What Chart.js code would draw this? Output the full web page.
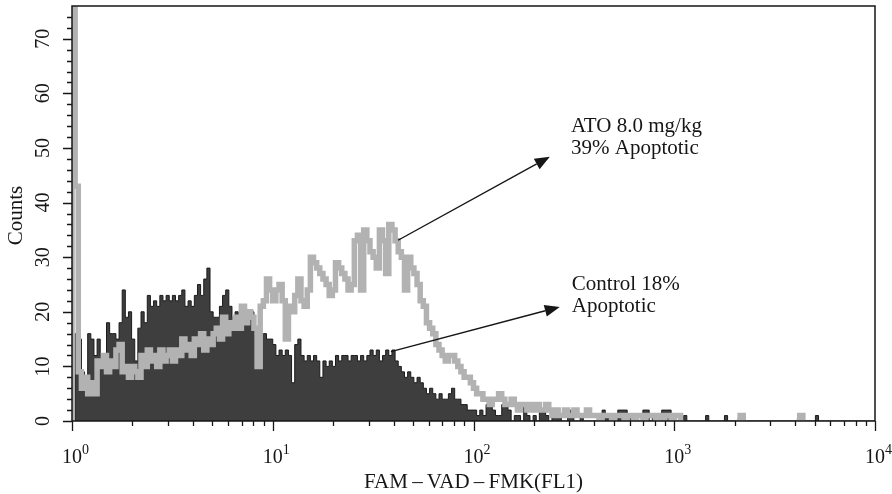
<!DOCTYPE html>
<html>
<head>
<meta charset="utf-8">
<title>FAM-VAD-FMK histogram</title>
<script src="https://cdn.jsdelivr.net/npm/chart.js@4.4.1/dist/chart.umd.min.js"></script>
<style>
  html, body { margin: 0; padding: 0; background: #ffffff; }
  #wrap { width: 892px; height: 494px; }
</style>
</head>
<body>
<div id="wrap"><canvas id="hist" width="892" height="494"></canvas></div>
<script>
// Histogram channels: 256 channels spread over 4 log decades (10^0 .. 10^4)
const CHANNELS = 256;
const DECADES = 4;

// Control sample, counts per channel
const controlCounts = [
  0,16,15,9,8,16,15,12,15,12,11,18,16,16,15,18,
  24,19,20,15,11,17,20,18,23,21,22,21,23,22,23,22,
  23,22,23,24,21,22,21,23,25,23,26,28,20,19,19,21,
  23,24,21,19,20,18,21,20,19,20,17,16,16,16,15,15,
  14,12,13,12,13,12,7,14,15,12,11,12,11,12,11,8,
  11,10,11,10,12,11,12,12,11,12,12,11,12,11,12,13,
  12,13,11,12,13,12,13,11,10,9,8,9,8,7,8,7,
  6,5,6,5,4,5,4,4,5,6,4,4,3,3,2,2,
  2,1,2,1,3,4,2,1,1,3,3,2,0,1,1,0,
  3,1,0,1,0,2,2,1,0,1,2,1,0,0,2,1,
  0,0,1,0,0,0,0,0,1,2,1,0,0,0,2,2,
  2,1,0,0,0,0,2,2,0,1,0,0,2,2,2,1,
  0,0,0,1,0,0,0,0,0,0,1,0,0,0,0,0,
  1,0,0,0,0,0,0,0,0,0,0,0,0,0,0,0,
  0,0,0,0,0,0,0,0,1,0,0,0,0,1,0,0,
  0,0,0,0,0,0,0,0,0,0,0,0,0,0,0,0
];

// ATO 8.0 mg/kg sample, counts per channel (first channel is off scale)
const atoCounts = [
  80,43,9,6,8,5,7,5,11,10,12,9,11,10,13,14,
  9,10,8,10,9,8,12,10,13,11,12,10,13,11,12,13,
  11,13,12,15,13,14,12,15,14,16,13,15,14,16,17,15,
  19,16,18,17,19,17,21,18,20,19,17,10,21,22,26,24,
  22,24,25,22,15,21,20,23,26,22,21,24,30,29,28,27,
  26,25,23,24,29,28,27,26,24,25,33,34,24,35,33,31,
  30,28,35,33,27,36,35,33,31,30,24,30,28,27,25,22,
  21,18,17,16,14,13,12,11,12,12,11,10,9,8,8,7,
  6,5,5,4,4,3,4,4,5,4,3,3,4,3,2,3,
  3,2,3,2,3,2,2,3,2,1,2,1,1,2,1,1,
  2,1,1,1,2,1,1,1,0,1,1,1,0,1,1,1,
  0,1,1,0,1,1,0,1,1,1,0,1,0,1,1,0,
  1,1,0,0,0,0,0,0,0,0,0,0,0,0,0,0,
  0,0,0,0,0,1,0,0,0,0,0,0,0,0,0,0,
  0,0,0,0,0,0,0,0,1,0,0,0,0,0,0,0,
  0,0,0,0,0,0,0,0,0,0,0,0,0,0,0,0
];

// Axis ticks and labels
const Y_MAX = 76;
const Y_LABEL_VALUES = [0, 10, 20, 30, 40, 50, 60, 70];
const Y_LABELS = ['0', '10', '20', '30', '40', '50', '60', '70'];
const Y_MINOR_STEP = 2;
const X_EXPONENTS = ['0', '1', '2', '3', '4'];
const X_TITLE = 'FAM\u2009\u2013\u2009VAD\u2009\u2013\u2009FMK(FL1)';
const Y_TITLE = 'Counts';

// Callout labels (text lines, text anchor, arrow tail on the curve, arrow head), in data units
const callouts = [
  { lines: ['ATO 8.0 mg/kg', '39% Apoptotic'], text: [306, 52.9], tail: [42.1, 33.1], head: [240, 48.4] },
  { lines: ['Control 18%', 'Apoptotic'], text: [309, 23.9], tail: [38.8, 12.7], head: [269, 20.9] }
];

// Each channel becomes a point at its left edge; stepped lines draw the bins
function toSteps(counts) {
  const pts = [{ x: 1, y: 0 }];
  counts.forEach((c, i) => pts.push({ x: Math.pow(10, i * DECADES / CHANNELS), y: c }));
  pts.push({ x: Math.pow(10, DECADES), y: counts[counts.length - 1] });
  return pts;
}

const SERIF = '"Liberation Serif", "Times New Roman", serif';
const INK = '#161616';

const axesPlugin = {
  id: 'flowAxes',
  afterDatasetsDraw(chart) {
    const { ctx, chartArea: a, scales: { x, y } } = chart;
    ctx.save();

    // plot frame
    ctx.strokeStyle = INK;
    ctx.lineWidth = 1.5;
    ctx.strokeRect(a.left, a.top, a.right - a.left, a.bottom - a.top);

    // y ticks (minor every 2, major every 10)
    ctx.lineWidth = 1.3;
    ctx.beginPath();
    for (let v = 0; v < Y_MAX; v += Y_MINOR_STEP) {
      const py = Math.round(y.getPixelForValue(v)) + 0.5;
      const len = v % 10 === 0 ? 9 : 5;
      ctx.moveTo(a.left - len, py);
      ctx.lineTo(a.left, py);
    }
    // x ticks (decades major, 2..9 minor)
    for (let d = 0; d <= DECADES; d++) {
      const base = Math.pow(10, d);
      const px = Math.round(x.getPixelForValue(base)) + 0.5;
      ctx.moveTo(px, a.bottom);
      ctx.lineTo(px, a.bottom + 10);
      if (d < DECADES) {
        for (let k = 2; k <= 9; k++) {
          const mx = Math.round(x.getPixelForValue(k * base)) + 0.5;
          ctx.moveTo(mx, a.bottom);
          ctx.lineTo(mx, a.bottom + 5);
        }
      }
    }
    ctx.stroke();

    ctx.fillStyle = INK;
    // y tick labels, rotated
    ctx.font = '20px ' + SERIF;
    Y_LABEL_VALUES.forEach((v, i) => {
      const py = y.getPixelForValue(v);
      ctx.save();
      ctx.translate(a.left - 23, py);
      ctx.rotate(-Math.PI / 2);
      ctx.textAlign = 'center';
      ctx.textBaseline = 'alphabetic';
      ctx.fillText(Y_LABELS[i], 0, 0);
      ctx.restore();
    });

    // x tick labels: 10 with superscript exponent
    X_EXPONENTS.forEach((e, d) => {
      const px = x.getPixelForValue(Math.pow(10, d));
      ctx.font = '20px ' + SERIF;
      ctx.textAlign = 'center';
      ctx.textBaseline = 'alphabetic';
      const w = ctx.measureText('10').width;
      ctx.fillText('10', px, a.bottom + 42);
      ctx.font = '14px ' + SERIF;
      ctx.textAlign = 'left';
      ctx.fillText(e, px + w / 2, a.bottom + 33);
    });

    // axis titles
    ctx.font = '21px ' + SERIF;
    ctx.textAlign = 'center';
    ctx.fillText(X_TITLE, (a.left + a.right) / 2, a.bottom + 67);
    ctx.save();
    ctx.translate(a.left - 50, (a.top + a.bottom) / 2 + 2);
    ctx.rotate(-Math.PI / 2);
    ctx.fillText(Y_TITLE, 0, 0);
    ctx.restore();

    // callouts with arrows
    callouts.forEach(c => {
      const tx = x.getPixelForValue(c.tail[0]), ty = y.getPixelForValue(c.tail[1]);
      const hx = x.getPixelForValue(c.head[0]), hy = y.getPixelForValue(c.head[1]);
      const ang = Math.atan2(hy - ty, hx - tx);
      const headLen = 15, headHalf = 6;
      const bx = hx - headLen * Math.cos(ang), by = hy - headLen * Math.sin(ang);
      ctx.strokeStyle = INK;
      ctx.lineWidth = 1.4;
      ctx.beginPath();
      ctx.moveTo(tx, ty);
      ctx.lineTo(bx, by);
      ctx.stroke();
      ctx.beginPath();
      ctx.moveTo(hx, hy);
      ctx.lineTo(bx - headHalf * Math.sin(ang), by + headHalf * Math.cos(ang));
      ctx.lineTo(bx + headHalf * Math.sin(ang), by - headHalf * Math.cos(ang));
      ctx.closePath();
      ctx.fill();

      ctx.font = '21px ' + SERIF;
      ctx.textAlign = 'left';
      ctx.textBaseline = 'alphabetic';
      const lx = x.getPixelForValue(c.text[0]);
      const ly = y.getPixelForValue(c.text[1]);
      c.lines.forEach((t, i) => ctx.fillText(t, lx, ly + i * 22));
    });

    ctx.restore();
  }
};

// Hide the outline where the ATO trace just runs along the baseline
const HIDDEN = 'rgba(0,0,0,0)';
const baselineSegment = {
  borderColor: s => (s.p0.parsed.y === 0 && s.p1.parsed.y === 0) ? HIDDEN : undefined
};

new Chart(document.getElementById('hist'), {
  type: 'line',
  data: {
    datasets: [
      {
        label: 'ATO 8.0 mg/kg',
        data: toSteps(atoCounts),
        stepped: 'before',
        borderColor: '#b2b2b2',
        borderWidth: 5.5,
        borderJoinStyle: 'miter',
        borderCapStyle: 'butt',
        segment: baselineSegment,
        pointRadius: 0,
        fill: false
      },
      {
        label: 'Control',
        data: toSteps(controlCounts),
        stepped: 'before',
        borderColor: '#1c1c1c',
        borderWidth: 1,
        backgroundColor: '#3e3e3e',
        pointRadius: 0,
        fill: 'origin'
      }
    ]
  },
  options: {
    responsive: false,
    animation: false,
    devicePixelRatio: 1,
    layout: { padding: { left: 72, right: 17, top: 6, bottom: 73 } },
    plugins: { legend: { display: false }, tooltip: { enabled: false } },
    scales: {
      x: { type: 'logarithmic', min: 1, max: 10000, display: false },
      y: { type: 'linear', min: 0, max: Y_MAX, display: false }
    }
  },
  plugins: [axesPlugin]
});
</script>
</body>
</html>
